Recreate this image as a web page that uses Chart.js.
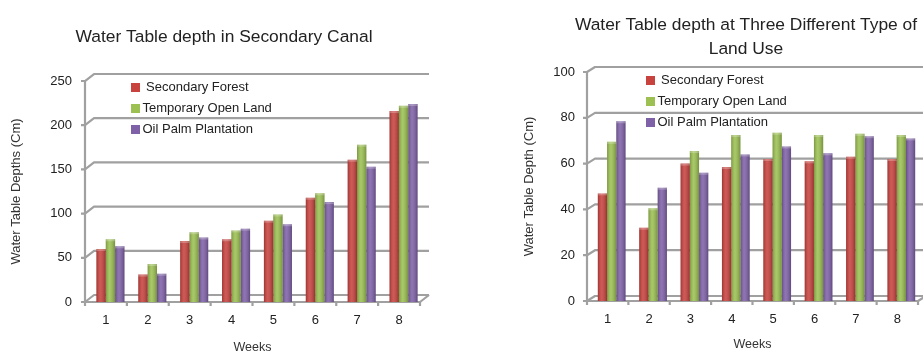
<!DOCTYPE html>
<html>
<head>
<meta charset="utf-8">
<script src="https://cdn.jsdelivr.net/npm/chart.js@4/dist/chart.umd.min.js"></script>
<style>
  html, body { margin: 0; padding: 0; background: #fff; overflow: hidden; }
  #wrap { position: relative; width: 923px; height: 355px; }
  #c1 { position: absolute; left: 0; top: 0; }
  #c2 { position: absolute; left: 460px; top: 0; }
</style>
</head>
<body>
<div id="wrap">
  <canvas id="c1" width="460" height="355"></canvas>
  <canvas id="c2" width="463" height="355"></canvas>
</div>
<script>
'use strict';

/* ── Data ───────────────────────────────────────────────── */
const weeks = ['1', '2', '3', '4', '5', '6', '7', '8'];
const seriesNames = [' Secondary Forest', 'Temporary Open Land', 'Oil Palm Plantation'];
const seriesColors = ['#c8423e', '#9cc152', '#7f61a8'];

// secondary canal
const canalForest = [60, 31, 69, 71, 92, 118, 161, 216];
const canalOpen = [71, 43, 79, 81, 99, 123, 178, 222];
const canalPalm = [63, 32, 73, 83, 88, 113, 153, 224];

// three land use types
const landForest = [47, 32, 60, 58.5, 62, 61, 63, 62];
const landOpen = [69.5, 40.5, 65.5, 72.5, 73.5, 72.5, 73, 72.5];
const landPalm = [78.5, 49.5, 56, 64, 67.5, 64.5, 72, 71];

const FONT = "'Liberation Sans', Arial, sans-serif";
const TXT = '#222';
const GRID = '#a0a0a0';

/* ── 3D-ish walls, shading, title/legend placement ──────── */
const depth3d = {
  id: 'depth3d',
  afterLayout(chart, args, o) {
    const t = chart.titleBlock;
    if (t && o.titleX != null) {
      const dx = o.titleX - (t.left + t.right) / 2;
      t.left += dx;
      t.right += dx;
    }
    const lg = chart.legend;
    if (lg && o.legendAt) {
      lg.left = o.legendAt[0];
      lg.top = o.legendAt[1];
      lg.width = 260;
      lg.height = 90;
      lg.right = lg.left + lg.width;
      lg.bottom = lg.top + lg.height;
    }
  },
  beforeDatasetsDraw(chart, args, o) {
    const { ctx, chartArea: a, scales: { x, y } } = chart;
    const L = a.left, R = a.right, dx = o.dx, dy = o.dy;
    ctx.save();
    ctx.strokeStyle = GRID;
    ctx.lineWidth = 2.2;
    ctx.lineJoin = 'round';
    y.ticks.forEach(t => {
      const py = y.getPixelForValue(t.value);
      ctx.beginPath();
      ctx.moveTo(L - 4, py);
      ctx.lineTo(L, py);
      ctx.lineTo(L + dx, py - dy);
      ctx.lineTo(R + dx, py - dy);
      ctx.stroke();
    });
    ctx.beginPath();
    ctx.moveTo(L, a.top);
    ctx.lineTo(L, a.bottom);
    ctx.lineTo(R, a.bottom);
    ctx.lineTo(R + dx, a.bottom - dy);
    ctx.stroke();
    for (let i = 0; i <= weeks.length; i++) {
      const bx = x.getPixelForValue(i - 0.5);
      ctx.beginPath();
      ctx.moveTo(bx, a.bottom);
      ctx.lineTo(bx, a.bottom + 4);
      ctx.stroke();
    }
    ctx.restore();
    ctx.save();
    ctx.translate(o.dx / 2, 0);
  },
  afterDatasetsDraw(chart) {
    const ctx = chart.ctx;
    chart.data.datasets.forEach((ds, di) => {
      chart.getDatasetMeta(di).data.forEach(el => {
        const x0 = el.x - el.width / 2, x1 = el.x + el.width / 2;
        const g = ctx.createLinearGradient(x0, 0, x1, 0);
        g.addColorStop(0, 'rgba(0,0,0,0.22)');
        g.addColorStop(0.4, 'rgba(255,255,255,0.12)');
        g.addColorStop(1, 'rgba(0,0,0,0.25)');
        ctx.fillStyle = g;
        ctx.fillRect(x0, el.y, el.width, el.base - el.y);
        ctx.fillStyle = 'rgba(255,255,255,0.25)';
        ctx.fillRect(x0, el.y, el.width, 2);
      });
    });
    ctx.restore();
  }
};

function makeChart(id, sets, cfg) {
  return new Chart(document.getElementById(id), {
    type: 'bar',
    data: {
      labels: weeks,
      datasets: sets.map((d, i) => ({
        label: seriesNames[i],
        data: d,
        backgroundColor: seriesColors[i],
        borderWidth: 0,
        categoryPercentage: 0.67,
        barPercentage: 1.0
      }))
    },
    options: {
      responsive: false,
      animation: false,
      layout: { padding: cfg.pad },
      plugins: {
        title: {
          display: true,
          text: cfg.title,
          color: TXT,
          font: { family: FONT, size: 17.4, weight: 'normal', lineHeight: cfg.titleLH },
          padding: cfg.titlePad
        },
        legend: {
          position: 'chartArea',
          align: 'start',
          labels: {
            color: TXT,
            font: { family: FONT, size: 13 },
            usePointStyle: true,
            pointStyle: 'rect',
            boxWidth: 1,
            boxHeight: 9,
            padding: 8
          }
        },
        tooltip: { enabled: false },
        depth3d: { dx: cfg.dx, dy: cfg.dy, titleX: cfg.titleX, legendAt: cfg.legendAt }
      },
      scales: {
        x: {
          grid: { display: false, drawTicks: false },
          border: { display: false },
          ticks: { color: TXT, font: { family: FONT, size: 13 }, padding: cfg.xTickPad },
          title: {
            display: true,
            text: 'Weeks',
            color: '#333',
            font: { family: FONT, size: 12.5, lineHeight: 1 },
            padding: { top: 0, bottom: cfg.weeksPad }
          },
          afterFit: s => { s.height = cfg.xH; }
        },
        y: {
          min: 0,
          max: cfg.yMax,
          grid: { display: false, drawTicks: false },
          border: { display: false },
          ticks: { stepSize: cfg.yStep, color: TXT, font: { family: FONT, size: 13 }, padding: cfg.yTickPad },
          title: {
            display: true,
            text: cfg.yTitle,
            color: '#333',
            font: { family: FONT, size: 13 },
            padding: { top: cfg.yTitlePad, bottom: 0 }
          },
          afterFit: s => { s.width = cfg.yW; }
        }
      }
    },
    plugins: [depth3d]
  });
}

makeChart('c1', [canalForest, canalOpen, canalPalm], {
  title: 'Water Table depth in Secondary Canal',
  titleLH: 1.38,
  titlePad: { top: 25, bottom: 32 },
  titleX: 224,
  pad: { left: 0, right: 40, top: 0, bottom: 0 },
  yW: 85, yMax: 250, yStep: 50, yTickPad: 13, yTitlePad: 9,
  yTitle: 'Water Table Depths (Cm)',
  xH: 53, xTickPad: 11, weeksPad: 0.75,
  dx: 9, dy: 7,
  legendAt: [127, 73]
});

makeChart('c2', [landForest, landOpen, landPalm], {
  title: ['Water Table depth at Three Different Type of', 'Land Use'],
  titleLH: 1.38,
  titlePad: { top: 13, bottom: 11 },
  titleX: 286,
  pad: { left: 60, right: 5, top: 0, bottom: 0 },
  yW: 67, yMax: 100, yStep: 20, yTickPad: 12, yTitlePad: 2,
  yTitle: 'Water Table Depth (Cm)',
  xH: 54, xTickPad: 10.5, weeksPad: 3.75,
  dx: 8, dy: 5,
  legendAt: [182, 66]
});
</script>
</body>
</html>
